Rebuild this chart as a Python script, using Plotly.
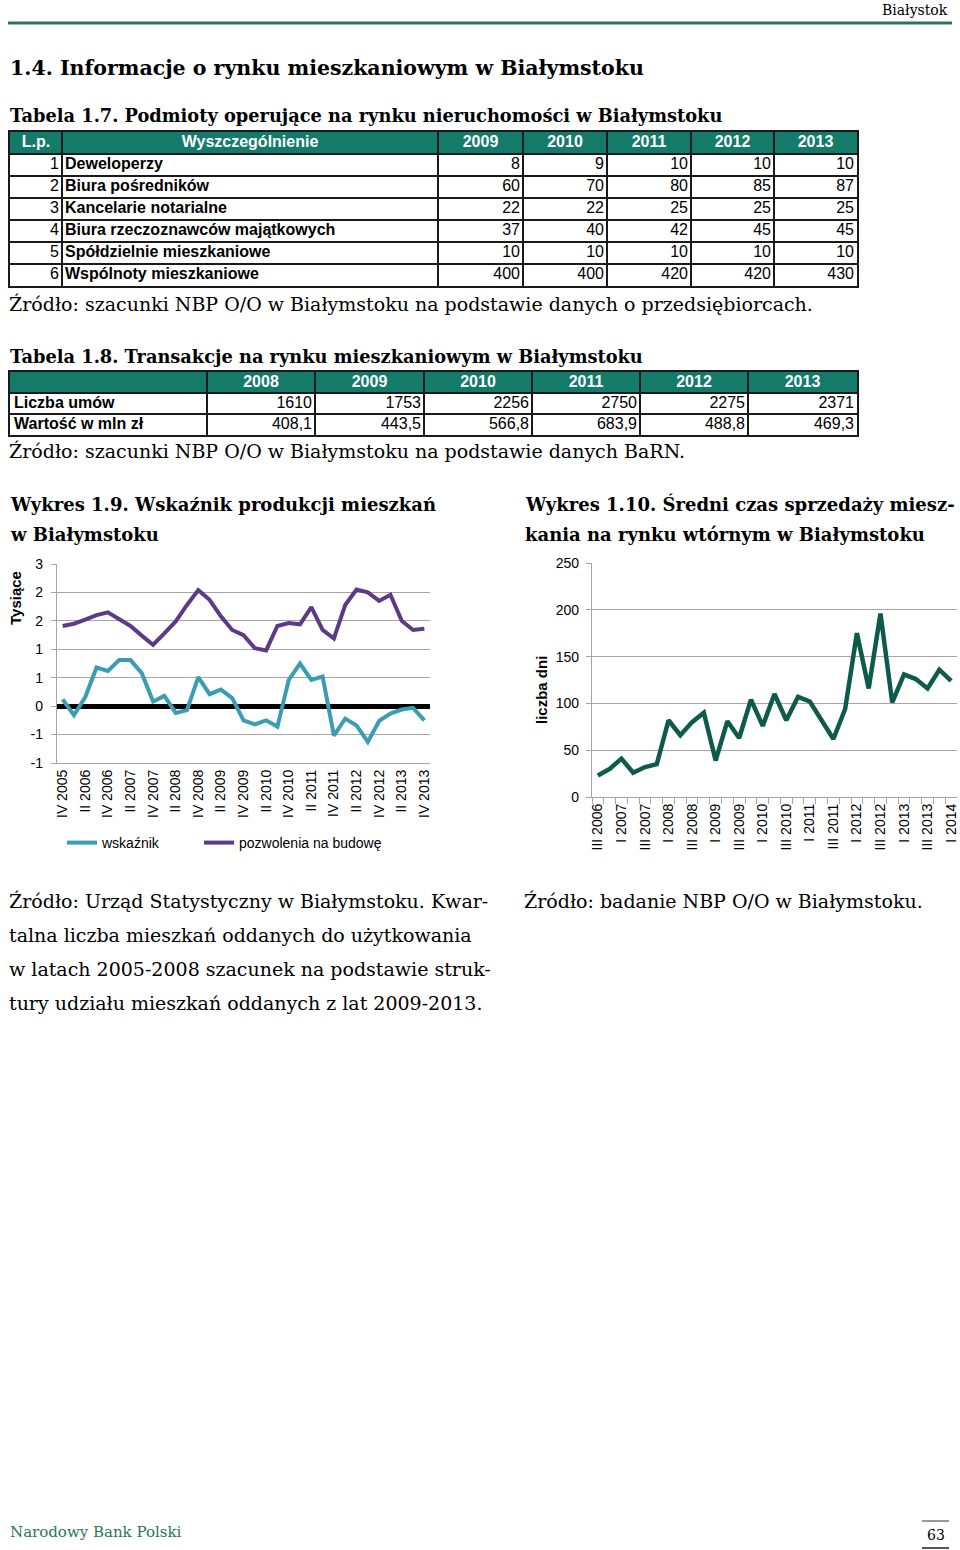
import plotly.graph_objects as go

W, H = 960, 1550
SANS = "Liberation Sans, Arial, sans-serif"
SERIF = "DejaVu Serif, serif"
TEAL = "#147a6a"
GRID = "#a6a6a6"
INK = "#1a1a1a"


def px(x):
    return x / W


def py(y):
    return 1 - y / H


# Tabela 1.7
t17_header = ["L.p.", "Wyszczególnienie", "2009", "2010", "2011", "2012", "2013"]
t17_lp = [1, 2, 3, 4, 5, 6]
t17_podmioty = ["Deweloperzy", "Biura pośredników", "Kancelarie notarialne",
                "Biura rzeczoznawców majątkowych", "Spółdzielnie mieszkaniowe",
                "Wspólnoty mieszkaniowe"]
t17_2009 = [8, 60, 22, 37, 10, 400]
t17_2010 = [9, 70, 22, 40, 10, 400]
t17_2011 = [10, 80, 25, 42, 10, 420]
t17_2012 = [10, 85, 25, 45, 10, 420]
t17_2013 = [10, 87, 25, 45, 10, 430]

# Tabela 1.8
t18_years = ["2008", "2009", "2010", "2011", "2012", "2013"]
t18_rows = ["Liczba umów", "Wartość w mln zł"]
t18_umowy = [1610, 1753, 2256, 2750, 2275, 2371]
t18_wartosc = [408.1, 443.5, 566.8, 683.9, 488.8, 469.3]

# Wykres 1.9
w19_kwartaly = ["IV 2005",
                "I 2006", "II 2006", "III 2006", "IV 2006",
                "I 2007", "II 2007", "III 2007", "IV 2007",
                "I 2008", "II 2008", "III 2008", "IV 2008",
                "I 2009", "II 2009", "III 2009", "IV 2009",
                "I 2010", "II 2010", "III 2010", "IV 2010",
                "I 2011", "II 2011", "III 2011", "IV 2011",
                "I 2012", "II 2012", "III 2012", "IV 2012",
                "I 2013", "II 2013", "III 2013", "IV 2013"]
w19_etykiety = ["IV 2005", "II 2006", "IV 2006", "II 2007", "IV 2007", "II 2008",
                "IV 2008", "II 2009", "IV 2009", "II 2010", "IV 2010", "II 2011",
                "IV 2011", "II 2012", "IV 2012", "II 2013", "IV 2013"]
w19_wskaznik = [0.12, -0.16, 0.16, 0.68, 0.62, 0.81, 0.81, 0.58, 0.08, 0.18, -0.12,
                -0.07, 0.51, 0.21, 0.29, 0.14, -0.25, -0.32, -0.25, -0.36, 0.46,
                0.75, 0.46, 0.52, -0.52, -0.22, -0.34, -0.63, -0.26, -0.13, -0.06,
                -0.03, -0.25]
w19_pozwolenia = [1.41, 1.45, 1.52, 1.60, 1.65, 1.53, 1.41, 1.24, 1.08, 1.28, 1.49,
                  1.78, 2.04, 1.87, 1.58, 1.34, 1.25, 1.02, 0.98, 1.41, 1.46, 1.44,
                  1.74, 1.34, 1.19, 1.78, 2.05, 2.00, 1.85, 1.96, 1.50, 1.34, 1.36]
w19_yticks = [-1, -0.5, 0, 0.5, 1, 1.5, 2, 2.5]
w19_yticklabels = ["-1", "-1", "0", "1", "1", "2", "2", "3"]

# Wykres 1.10
w110_kwartaly = ["III 2006", "IV 2006",
                 "I 2007", "II 2007", "III 2007", "IV 2007",
                 "I 2008", "II 2008", "III 2008", "IV 2008",
                 "I 2009", "II 2009", "III 2009", "IV 2009",
                 "I 2010", "II 2010", "III 2010", "IV 2010",
                 "I 2011", "II 2011", "III 2011", "IV 2011",
                 "I 2012", "II 2012", "III 2012", "IV 2012",
                 "I 2013", "II 2013", "III 2013", "IV 2013",
                 "I 2014"]
w110_etykiety = ["III 2006", "I 2007", "III 2007", "I 2008", "III 2008", "I 2009",
                 "III 2009", "I 2010", "III 2010", "I 2011", "III 2011", "I 2012",
                 "III 2012", "I 2013", "III 2013", "I 2014"]
w110_dni = [23, 30, 41, 26, 32, 35, 82, 66, 80, 90, 39, 81, 63, 104, 76, 110, 82,
            107, 102, 83, 62, 94, 175, 116, 196, 101, 131, 126, 116, 136, 124]

# table geometry (page pixels)
T17_COLS = [10, 62, 438, 523, 607, 691, 774, 857]
T18_COLS = [10, 207, 315, 424, 532, 640, 748, 857]

fig = go.Figure()


def text_trace(xs, ys, texts, axis, pos, color="black", size=16):
    fig.add_trace(go.Scatter(
        x=xs, y=ys, text=texts, mode="text", textposition=pos,
        textfont=dict(family=SANS, size=size, color=color),
        xaxis="x" + axis, yaxis="y" + axis, showlegend=False,
        hoverinfo="skip", cliponaxis=False,
    ))


# --- Tabela 1.7 ---
rows17 = [i + 0.5 for i in range(1, len(t17_lp) + 1)]
centers17 = [(a + b) / 2 for a, b in zip(T17_COLS[:-1], T17_COLS[1:])]
text_trace(centers17, [0.5] * len(t17_header), [f"<b>{h}</b>" for h in t17_header],
           "3", "middle center", color="white")
text_trace([T17_COLS[1] - 3] * len(t17_lp), rows17, [str(v) for v in t17_lp],
           "3", "middle left")
text_trace([T17_COLS[1] + 3] * len(t17_podmioty), rows17,
           [f"<b>{p}</b>" for p in t17_podmioty], "3", "middle right")
for j, col in enumerate([t17_2009, t17_2010, t17_2011, t17_2012, t17_2013]):
    text_trace([T17_COLS[j + 3] - 3] * len(col), rows17, [str(v) for v in col],
               "3", "middle left")

# --- Tabela 1.8 ---
rows18 = [1.5, 2.5]
centers18 = [(a + b) / 2 for a, b in zip(T18_COLS[:-1], T18_COLS[1:])]
text_trace(centers18[1:], [0.5] * len(t18_years), [f"<b>{y}</b>" for y in t18_years],
           "4", "middle center", color="white")
text_trace([T18_COLS[0] + 4] * len(t18_rows), rows18, [f"<b>{r}</b>" for r in t18_rows],
           "4", "middle right")
for j, (u, v) in enumerate(zip(t18_umowy, t18_wartosc)):
    text_trace([T18_COLS[j + 2] - 3] * 2, rows18,
               [str(u), f"{v:.1f}".replace(".", ",")], "4", "middle left")

# --- Wykres 1.9 ---
fig.add_trace(go.Scatter(
    x=w19_kwartaly, y=w19_wskaznik, mode="lines", name="wskaźnik",
    line=dict(color="#3a9db4", width=4), xaxis="x", yaxis="y", legend="legend",
))
fig.add_trace(go.Scatter(
    x=w19_kwartaly, y=w19_pozwolenia, mode="lines", name="pozwolenia na budowę",
    line=dict(color="#5d3a86", width=4), xaxis="x", yaxis="y", legend="legend2",
))

# --- Wykres 1.10 ---
fig.add_trace(go.Scatter(
    x=w110_kwartaly, y=w110_dni, mode="lines", showlegend=False,
    line=dict(color="#0e5a4c", width=4.5), xaxis="x2", yaxis="y2",
))

tick_font = dict(family=SANS, size=14, color="black")


def table_axes(cols, n_rows, top, bottom, anchor):
    xa = dict(domain=[px(cols[0]), px(cols[-1])], range=[cols[0], cols[-1]],
              tickmode="array", tickvals=cols, showticklabels=False, ticks="",
              showgrid=True, gridcolor=INK, gridwidth=1.6, zeroline=False,
              showline=True, mirror=True, linecolor=INK, linewidth=2,
              anchor="y" + anchor, automargin=False, fixedrange=True)
    ya = dict(domain=[py(bottom), py(top)], range=[n_rows, 0], tickmode="array",
              tickvals=list(range(n_rows + 1)), showticklabels=False, ticks="",
              showgrid=True, gridcolor=INK, gridwidth=1.6, zeroline=False,
              showline=True, mirror=True, linecolor=INK, linewidth=2,
              anchor="x" + anchor, automargin=False, fixedrange=True)
    return xa, ya


x3, y3 = table_axes(T17_COLS, 7, 132, 286, "3")
x4, y4 = table_axes(T18_COLS, 3, 372, 435, "4")

legend_style = dict(
    orientation="h", y=py(827), xanchor="left", yanchor="top",
    font=dict(family=SANS, size=14, color="black"), bgcolor="rgba(0,0,0,0)",
)

fig.update_layout(
    width=W, height=H, autosize=False,
    margin=dict(l=0, r=0, t=0, b=0, autoexpand=False),
    paper_bgcolor="white", plot_bgcolor="white",
    xaxis=dict(
        domain=[px(57), px(430)], type="category", categoryorder="array",
        categoryarray=w19_kwartaly, range=[-0.5, len(w19_kwartaly) - 0.5],
        tickmode="array", tickvals=w19_kwartaly,
        ticktext=[k if k in w19_etykiety else "" for k in w19_kwartaly],
        tickangle=-90, tickfont=tick_font, showgrid=False, ticks="",
        showline=True, linecolor=GRID, linewidth=1.3, automargin=False,
    ),
    yaxis=dict(
        domain=[py(763), py(564)], range=[-1, 2.5], tickmode="array",
        tickvals=w19_yticks, ticktext=w19_yticklabels, tickfont=tick_font,
        showgrid=True, gridcolor=GRID, gridwidth=1.3, showline=True,
        linecolor=GRID, linewidth=1.3, ticks="outside", ticklen=5,
        tickcolor=GRID, ticklabelstandoff=5, zeroline=True, zerolinecolor="black",
        zerolinewidth=4.5, automargin=False,
    ),
    xaxis2=dict(
        domain=[px(592), px(957)], type="category", categoryorder="array",
        categoryarray=w110_kwartaly, range=[-0.5, len(w110_kwartaly) - 0.5],
        tickmode="array", tickvals=w110_kwartaly,
        ticktext=[k if k in w110_etykiety else "" for k in w110_kwartaly],
        tickson="boundaries", tickangle=-90, tickfont=tick_font, showgrid=False,
        ticks="outside", ticklen=6, tickcolor=GRID, showline=True,
        linecolor=GRID, linewidth=1.3, anchor="y2", automargin=False,
    ),
    yaxis2=dict(
        domain=[py(797), py(563)], range=[0, 250], dtick=50, tickfont=tick_font,
        showgrid=True, gridcolor=GRID, gridwidth=1.3, showline=True,
        linecolor=GRID, linewidth=1.3, ticks="outside", ticklen=5,
        tickcolor=GRID, ticklabelstandoff=4, zeroline=False, anchor="x2",
        automargin=False,
    ),
    xaxis3=x3, yaxis3=y3, xaxis4=x4, yaxis4=y4,
    legend=dict(x=px(62), **legend_style),
    legend2=dict(x=px(199), **legend_style),
)

# header fills of the tables
for ax, cols in (("3", T17_COLS), ("4", T18_COLS)):
    fig.add_shape(type="rect", xref="x" + ax, yref="y" + ax, x0=cols[0], x1=cols[-1],
                  y0=0, y1=1, fillcolor=TEAL, line=dict(width=0), layer="below")

# --- page decoration ---
fig.add_shape(type="line", xref="paper", yref="paper", x0=px(8), x1=px(952),
              y0=py(23), y1=py(23), line=dict(color="#2a7560", width=3))
fig.add_shape(type="line", xref="paper", yref="paper", x0=px(922), x1=px(949),
              y0=py(1521), y1=py(1521), line=dict(color="#333", width=1))
fig.add_shape(type="line", xref="paper", yref="paper", x0=px(922), x1=px(949),
              y0=py(1548), y1=py(1548), line=dict(color="#555", width=2))


def txt(x, y, s, size=19, bold=False, anchor="left", family=SERIF, color="black",
        angle=0):
    fig.add_annotation(
        x=px(x), y=py(y), xref="paper", yref="paper", text=f"<b>{s}</b>" if bold else s,
        showarrow=False, xanchor=anchor, yanchor="middle", textangle=angle,
        font=dict(family=family, size=size, color=color),
    )


txt(950, 10, "Białystok", size=14, anchor="right")
txt(8, 68, "1.4. Informacje o rynku mieszkaniowym w Białymstoku", size=20.5, bold=True)
txt(8, 116, "Tabela 1.7. Podmioty operujące na rynku nieruchomości w Białymstoku",
    size=17.8, bold=True)
txt(7, 304, "Źródło: szacunki NBP O/O w Białymstoku na podstawie danych o przedsiębiorcach.")
txt(8, 356, "Tabela 1.8. Transakcje na rynku mieszkaniowym w Białymstoku", size=17.8,
    bold=True)
txt(7, 451, "Źródło: szacunki NBP O/O w Białymstoku na podstawie danych BaRN.")

txt(8, 504, "Wykres 1.9. Wskaźnik produkcji mieszkań", size=18, bold=True)
txt(8, 534, "w Białymstoku", size=18, bold=True)
txt(523, 504, "Wykres 1.10. Średni czas sprzedaży miesz-", size=18, bold=True)
txt(523, 534, "kania na rynku wtórnym w Białymstoku", size=18, bold=True)

txt(16, 598, "Tysiące", size=15, bold=True, anchor="center", family=SANS, angle=-90)
txt(541, 690, "liczba dni", size=15, bold=True, anchor="center", family=SANS, angle=-90)

zrodlo_19 = ["Źródło: Urząd Statystyczny w Białymstoku. Kwar-",
             "talna liczba mieszkań oddanych do użytkowania",
             "w latach 2005-2008 szacunek na podstawie struk-",
             "tury udziału mieszkań oddanych z lat 2009-2013."]
for i, line in enumerate(zrodlo_19):
    txt(7, 901 + 34 * i, line)
txt(522, 901, "Źródło: badanie NBP O/O w Białymstoku.")

txt(8, 1532, "Narodowy Bank Polski", size=15, color="#2a7560")
txt(936, 1535, "63", size=14, anchor="center")

fig.write_html(
    "out.html",
    config={"displayModeBar": False},
    post_script="document.body.style.margin='0';document.body.style.overflow='hidden';",
)
